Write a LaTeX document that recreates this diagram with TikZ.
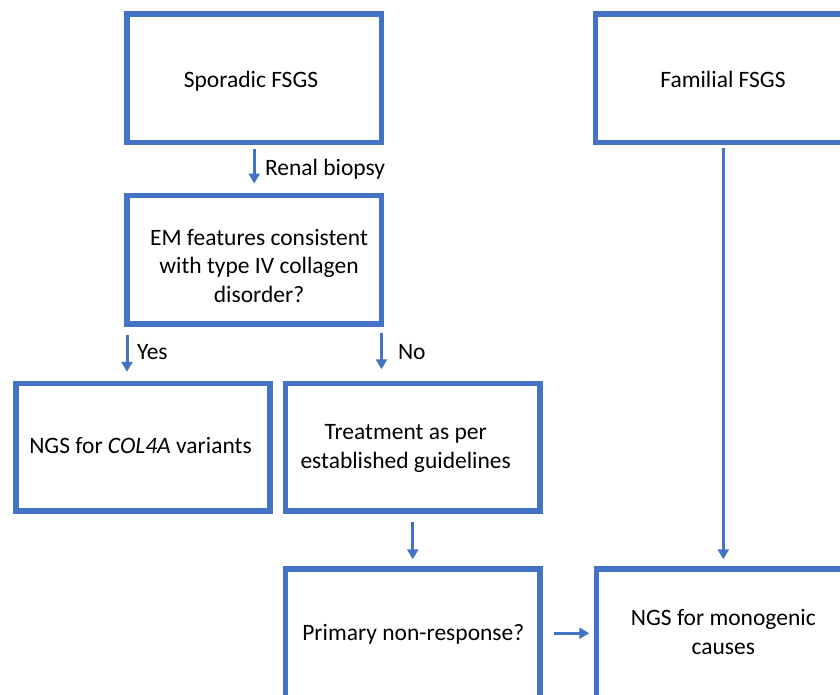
\documentclass[tikz,border=0pt]{standalone}
\usepackage{fontspec}
\setmainfont{Carlito}
\usetikzlibrary{arrows.meta,calc}
\definecolor{obl}{HTML}{4472C4}
\begin{document}
\begin{tikzpicture}[x=1pt,y=-1pt,
  boxnode/.style={draw=obl, line width=5.5pt, rectangle, inner sep=0pt, outer sep=0pt, minimum width=254.5pt, minimum height=128.5pt},
  txt/.style={font=\fontsize{23.5}{28.5}\selectfont, inner sep=0pt, outer sep=0pt, align=center, anchor=base},
  lbl/.style={font=\fontsize{23.5}{28.5}\selectfont, inner sep=0pt, outer sep=0pt, anchor=base west},
  arr/.style={draw=obl, line width=3pt, -{Triangle[length=10pt,width=11pt]}}
]
\useasboundingbox (0,0) rectangle (840,694);
\clip (0,0) rectangle (840,694);
% boxes
\node[boxnode] (spor) at (254.25,78.25) {};
\node[boxnode, minimum width=255.5pt] (fam) at (723.3,78.25) {};
\node[boxnode] (em) at (254.25,259.75) {};
\node[boxnode, minimum width=254.2pt, minimum height=127.5pt] (col) at (142.9,447.05) {};
\node[boxnode, minimum height=127.5pt] (treat) at (412.75,447.05) {};
\node[boxnode] (prim) at (412.75,633.25) {};
\node[boxnode, minimum width=254pt] (mono) at (723.3,633.25) {};
% texts (multi-line texts are placed by the baseline of their last line)
\node[txt] (sport) at (251,87) {Sporadic FSGS};
\node[txt] (famt) at (723,87.3) {Familial FSGS};
\node[txt] (emt) at (259,302) {EM features consistent\\with type IV collagen\\disorder?};
\node[txt] (colt) at (140.5,453.3) {NGS for \textit{COL4A} variants};
\node[txt] (treatt) at (405.7,468.4) {Treatment as per\\established guidelines};
\node[txt] (primt) at (413.3,640.7) {Primary non-response?};
\node[txt] (monot) at (723.3,654.1) {NGS for monogenic\\causes};
% labels
\node[lbl] (renal) at (265,175.5) {Renal biopsy};
\node[lbl] (yes) at (137,359) {Yes};
\node[lbl] (no) at (398,359) {No};
% connectors
\draw[arr] ([yshift=-6pt]spor.south) -- ([yshift=12pt]em.north);
\draw[arr] ([yshift=-11pt]em.south west) -- ($(em.south west |- col.north)+(0,-11.5)$);
\draw[arr] ([yshift=-8.7pt]em.south east) -- ($(em.south east |- treat.north)+(0,-14)$);
\draw[arr] ([yshift=-11pt]treat.south) -- ([yshift=9.7pt]prim.north);
\draw[arr] ([yshift=-5.5pt]fam.south) -- ([yshift=9.7pt]mono.north);
\draw[arr] ([xshift=14pt]prim.east) -- ([xshift=-7pt]mono.west);
\end{tikzpicture}
\end{document}
